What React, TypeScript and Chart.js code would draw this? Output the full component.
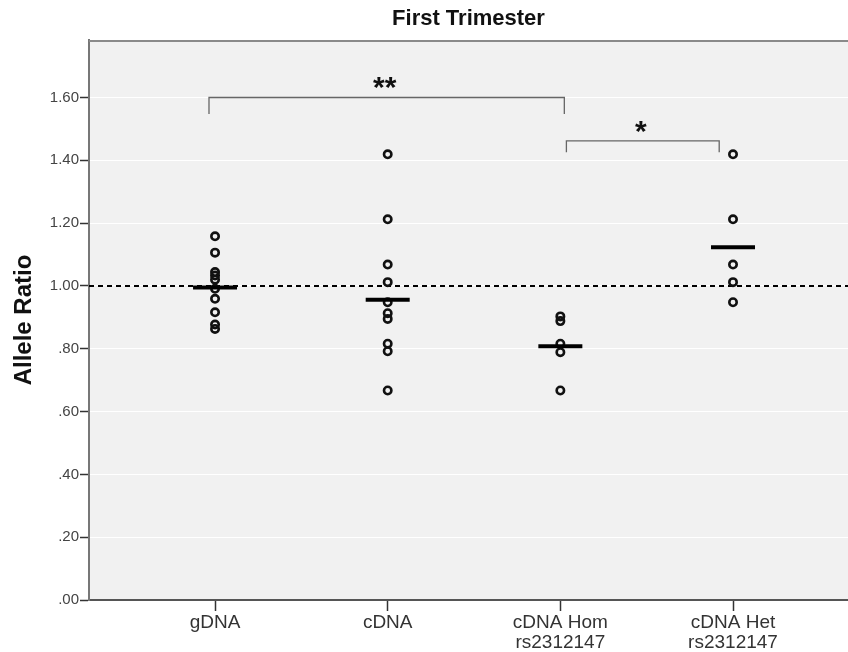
import React, { useEffect, useRef } from 'react';
import { Chart, registerables } from 'chart.js';

Chart.register(...registerables);

// ---- Data ----
const categories: string[][] = [['gDNA'], ['cDNA'], ['cDNA Hom', 'rs2312147'], ['cDNA Het', 'rs2312147']];
const categoryPositions = [1, 2, 3, 4];

const gDNAValues = [1.158, 1.106, 1.044, 1.033, 1.02, 0.991, 0.959, 0.916, 0.877, 0.863];
const cDNAValues = [1.419, 1.212, 1.068, 1.012, 0.948, 0.913, 0.895, 0.816, 0.792, 0.667];
const cDNAHomValues = [0.903, 0.888, 0.816, 0.789, 0.667];
const cDNAHetValues = [1.419, 1.212, 1.068, 1.012, 0.948];
const groupMeans = [0.995, 0.956, 0.808, 1.123];

const yTicks = [0, 0.2, 0.4, 0.6, 0.8, 1.0, 1.2, 1.4, 1.6];
const referenceValue = 1.0;

const bracketStart = [0.965, 3.035];
const bracketEnd = [3.023, 3.92];
const bracketTop = [1.6, 1.462];
const bracketFoot = [1.547, 1.426];
const bracketLabels = ['**', '*'];

const X_MIN = 0.27;
const X_MAX = 4.666;
const Y_MIN = 0;
const Y_MAX = 1.783;

const FONT = '"Liberation Sans", Arial, Helvetica, sans-serif';

const fmtTick = (v: number) => v.toFixed(2).replace(/^0/, '');

const plotBackground = {
  id: 'plotBackground',
  beforeDraw(chart: any) {
    const { ctx, chartArea } = chart;
    ctx.save();
    ctx.fillStyle = '#f1f1f1';
    ctx.fillRect(chartArea.left, chartArea.top, chartArea.right - chartArea.left, chartArea.bottom - chartArea.top);
    ctx.restore();
  },
  afterDraw(chart: any) {
    const { ctx, chartArea } = chart;
    ctx.save();
    ctx.strokeStyle = '#8a8a8a';
    ctx.lineWidth = 2;
    ctx.beginPath();
    ctx.moveTo(chartArea.left, chartArea.top + 1);
    ctx.lineTo(chartArea.right, chartArea.top + 1);
    ctx.stroke();
    ctx.restore();
  },
};

const brackets = {
  id: 'brackets',
  afterDatasetsDraw(chart: any) {
    const { ctx } = chart;
    const xs = chart.scales.x;
    const ys = chart.scales.y;
    ctx.save();
    for (let i = 0; i < bracketLabels.length; i++) {
      const x1 = xs.getPixelForValue(bracketStart[i]);
      const x2 = xs.getPixelForValue(bracketEnd[i]);
      const yt = ys.getPixelForValue(bracketTop[i]);
      const yf = ys.getPixelForValue(bracketFoot[i]);
      ctx.strokeStyle = '#666';
      ctx.lineWidth = 1.3;
      ctx.beginPath();
      ctx.moveTo(x1, yf);
      ctx.lineTo(x1, yt);
      ctx.lineTo(x2, yt);
      ctx.lineTo(x2, yf);
      ctx.stroke();
      ctx.font = `bold 30px ${FONT}`;
      ctx.fillStyle = '#111';
      ctx.textAlign = 'center';
      ctx.textBaseline = 'alphabetic';
      const m = ctx.measureText(bracketLabels[i]);
      const center = yt - 14;
      const baseline = center + (m.actualBoundingBoxAscent - m.actualBoundingBoxDescent) / 2;
      ctx.fillText(bracketLabels[i], (x1 + x2) / 2 - 2, baseline);
    }
    ctx.restore();
  },
};

const toPoints = (pos: number, values: number[]) => values.map((v) => ({ x: pos, y: v }));

const circleStyle = {
  showLine: false,
  pointRadius: 3.7,
  pointBorderWidth: 2.6,
  pointBorderColor: '#111',
  pointBackgroundColor: 'rgba(0,0,0,0)',
  pointHoverRadius: 3.7,
};

export default function App() {
  const ref = useRef<HTMLCanvasElement | null>(null);

  useEffect(() => {
    if (!ref.current) return;
    const chart = new Chart(ref.current, {
      type: 'scatter',
      data: {
        datasets: [
          {
            label: 'Mean',
            data: groupMeans.map((v, i) => ({ x: categoryPositions[i], y: v })),
            showLine: false,
            pointStyle: 'line',
            pointRadius: 22,
            pointHoverRadius: 22,
            pointBorderWidth: 4,
            pointBorderColor: '#000',
          } as any,
          { label: 'gDNA', data: toPoints(categoryPositions[0], gDNAValues), ...circleStyle } as any,
          { label: 'cDNA', data: toPoints(categoryPositions[1], cDNAValues), ...circleStyle } as any,
          { label: 'cDNA Hom', data: toPoints(categoryPositions[2], cDNAHomValues), ...circleStyle } as any,
          { label: 'cDNA Het', data: toPoints(categoryPositions[3], cDNAHetValues), ...circleStyle } as any,
          {
            label: 'Reference',
            data: [
              { x: X_MIN, y: referenceValue },
              { x: X_MAX, y: referenceValue },
            ],
            showLine: true,
            borderColor: '#000',
            borderWidth: 2,
            borderDash: [5, 4],
            pointRadius: 0,
            pointHoverRadius: 0,
          } as any,
        ],
      },
      options: {
        animation: false,
        responsive: false,
        maintainAspectRatio: false,
        layout: { padding: 0, autoPadding: false },
        events: [],
        plugins: {
          legend: { display: false },
          tooltip: { enabled: false },
          title: {
            display: true,
            text: 'First Trimester',
            fullSize: false,
            color: '#111',
            font: { size: 22, weight: 'bold', family: FONT },
            padding: { top: 6, bottom: 7.6 },
          },
        },
        scales: {
          x: {
            type: 'linear',
            min: X_MIN,
            max: X_MAX,
            afterBuildTicks: (s: any) => {
              s.ticks = categoryPositions.map((v) => ({ value: v }));
            },
            afterFit: (s: any) => {
              s.height = 52;
              s.paddingLeft = 0;
              s.paddingRight = 0;
            },
            ticks: {
              autoSkip: false,
              maxRotation: 0,
              padding: 2,
              color: '#333',
              font: { size: 19, family: FONT, lineHeight: 1.05 },
              callback: (v: any) => {
                const idx = categoryPositions.indexOf(Number(v));
                return idx >= 0 ? categories[idx] : '';
              },
            },
            grid: {
              drawOnChartArea: false,
              tickLength: 11,
              tickColor: '#333',
              tickWidth: 1.5,
            },
            border: { color: '#555', width: 2 },
          },
          y: {
            min: Y_MIN,
            max: Y_MAX,
            afterBuildTicks: (s: any) => {
              s.ticks = yTicks.map((v) => ({ value: v }));
            },
            afterFit: (s: any) => {
              s.width = 89;
              s.paddingTop = 0;
              s.paddingBottom = 0;
            },
            ticks: {
              padding: 1,
              color: '#444',
              font: { size: 15, family: FONT },
              callback: (v: any) => fmtTick(Number(v)),
            },
            grid: {
              color: '#ffffff',
              lineWidth: 1,
              tickLength: 9,
              tickColor: '#333',
              tickWidth: 1.5,
            },
            border: { color: '#777', width: 2 },
            title: {
              display: true,
              text: 'Allele Ratio',
              color: '#111',
              font: { size: 24, weight: 'bold', family: FONT },
              padding: { top: 10, bottom: 0 },
            },
          },
        },
      },
      plugins: [plotBackground, brackets],
    });
    return () => chart.destroy();
  }, []);

  return (
    <div style={{ position: 'absolute', left: 0, top: 0, width: 848, height: 652, background: '#fff' }}>
      <canvas ref={ref} width={848} height={652} style={{ display: 'block' }} />
    </div>
  );
}
